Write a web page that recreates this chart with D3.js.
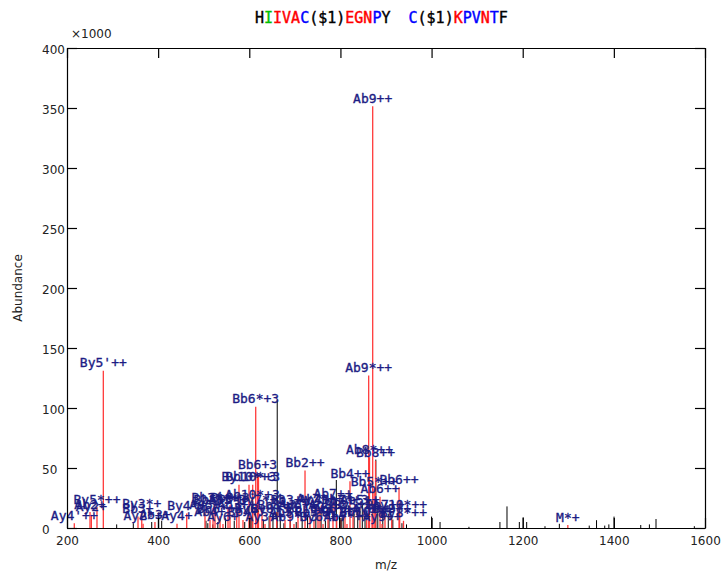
<!DOCTYPE html>
<html>
<head>
<meta charset="utf-8">
<script src="https://cdn.jsdelivr.net/npm/d3@7/dist/d3.min.js"></script>
<style>
body { margin: 0; background: #fff; }
svg text { font-family: "DejaVu Sans", sans-serif; }
.lbl { font-family: "DejaVu Sans Mono", monospace; font-size: 13px; fill: #1c1c84; stroke: #1c1c84; stroke-width: 0.35px; }
</style>
</head>
<body>
<script>
"use strict";

// tick values
var xTicks = [200, 400, 600, 800, 1000, 1200, 1400, 1600];
var yTicks = [0, 50, 100, 150, 200, 250, 300, 350, 400];

// title pieces: [text, colour]
var titleParts = [
    ["H", "#000"], ["I", "#00c000"], ["IVA", "#f00"], ["C", "#00f"], ["($1)", "#000"],
    ["EGN", "#f00"], ["P", "#00f"], ["Y", "#000"], ["  ", "#000"],
    ["C", "#00f"], ["($1)", "#000"], ["K", "#f00"], ["PV", "#00f"], ["N", "#f00"],
    ["T", "#00f"], ["F", "#000"]
];

// matched peaks: [m/z, abundance (x1000), label]
var matched = [
    [216, 4, "Ay4'++"], [250.5, 13.3, "Ab2+"], [253.5, 11, "Ay2+"], [265.8, 17.5, "By5*++"],
    [279.7, 131, "By5'++"], [355.8, 9.5, "Bb3+"], [364, 13.5, "By3*+"], [367, 3.5, "Ay2*+"],
    [393, 5, "Ab3+"], [441.4, 3.5, "Ay4+"], [462.7, 12, "By4*+"],
    [577.4, 36, ""], [599.4, 36, "By10*+3"], [607.5, 36, "Bb10*+3"], [607, 21, "Ab10*+3"],
    [614.1, 101, "Bb6*+3"], [618, 46, "Bb6+3"], [620.2, 44, ""],
    [722.3, 48, "Bb2++"], [783.7, 22, "Ab7++"], [821, 39, "Bb4++"],
    [862, 127, "Ab9*++"], [863.8, 59, "Ab8*++"], [870.8, 351.5, "Ab9++"],
    [874, 32.5, "Bb5*++"], [877, 56, "Bb8++"], [886.9, 26, "Ab6++"],
    [928.6, 34, "Bb6++"], [930, 13, "Ay10*++"], [938.4, 6, "By8*++"],
    [520.4, 16.7, "Bb5+3"], [553.3, 16.7, "Ab3*+"], [627.9, 16.7, "By7*+3"], [689.4, 16.7, "Bb3++"],
    [750.8, 16.7, "Ab4++"], [810, 16.7, "Bb7*+3"], [842.9, 16.7, "Ab5++"],
    [502.8, 13.3, "Ay5+"], [572.4, 13.3, "Ab3++"], [660.2, 13.3, "Bb8+3"], [706.9, 13.3, "Ay6++"],
    [772.7, 13.3, "Ab8+3"], [827.6, 13.3, "By5++"], [897.8, 13.3, "Bb7++"],
    [535.8, 10, "Bb6*++"], [601.6, 10, "By6+"], [645.5, 10, "By8+3"], [733.2, 10, "Bb10+3"],
    [791.8, 10, "Ab6*++"], [869.3, 10, "Ay8++"], [912.5, 10, "By9++"],
    [513.8, 6.7, "Ab4+"], [586.2, 6.7, "Bb4+"], [678.4, 6.7, "Ab5+"], [742, 6.7, "Bb5*+"],
    [801.3, 6.7, "By7++"], [857.7, 6.7, "Bb10*++"],
    [542.3, 3.3, "Ay6+"], [634.5, 3.3, "Ay3++"], [698.1, 3.3, "Ab9*+3"], [761.8, 3.3, "By6*++"],
    [814.4, 3.3, "Ab7*++"], [891.3, 3.3, "Ay9++"],
    [524.8, 19, "Bb3*++"], [557.7, 19, "Bb9+3"], [755.2, 18, "Ay7*++"],
    [1299, 2.5, "M*+"]
];

// unmatched peaks: [m/z, abundance (x1000)]
var unmatched = [
    [309, 3], [345.5, 4], [385.9, 5], [400.4, 12], [407.8, 6], [505, 6], [509, 4],
    [520, 3], [531, 5], [548, 8], [567, 6], [590, 5], [604, 9], [630.8, 7], [643.5, 10],
    [652, 12], [661.3, 107], [668, 9], [676, 4], [690, 6], [703, 5], [716, 8], [728, 11],
    [746, 7], [757.5, 13], [767, 6], [775, 18], [791, 40], [798, 10], [806, 8], [830, 12],
    [838, 15], [848, 20], [854, 9], [877.7, 57], [882, 18], [893, 10], [905, 12], [915, 7],
    [935, 4], [945, 3],
    [1000, 9.5], [1018.6, 5], [1082, 1], [1150, 5], [1165.5, 18], [1192.6, 5], [1201, 9],
    [1208.7, 5], [1248.9, 1.5], [1280.4, 3.5], [1346, 2], [1362, 6.5], [1380, 2], [1389, 3],
    [1400.4, 9.5], [1459, 2.5], [1478, 3], [1492.5, 7.5], [1576.6, 1.5]
];

var W = 723, H = 571,
    margin = {top: 48, right: 18, bottom: 43, left: 67},
    width = W - margin.left - margin.right,
    height = H - margin.top - margin.bottom;

var svg = d3.select("body").append("svg")
    .attr("width", W)
    .attr("height", H);

var x = d3.scaleLinear().domain([200, 1600]).range([0, width]);
var y = d3.scaleLinear().domain([0, 400]).range([height, 0]);

var g = svg.append("g")
    .attr("transform", "translate(" + margin.left + "," + margin.top + ")");

// unmatched peaks in black
g.append("g").selectAll("line")
    .data(unmatched)
    .enter().append("line")
    .attr("x1", function(d) { return x(d[0]); })
    .attr("x2", function(d) { return x(d[0]); })
    .attr("y1", height)
    .attr("y2", function(d) { return y(d[1]); })
    .style("stroke", "#000")
    .style("stroke-width", 1);

// matched peaks in red
g.append("g").selectAll("line")
    .data(matched)
    .enter().append("line")
    .attr("x1", function(d) { return x(d[0]); })
    .attr("x2", function(d) { return x(d[0]); })
    .attr("y1", height)
    .attr("y2", function(d) { return y(d[1]); })
    .style("stroke", "#ff3a3a")
    .style("stroke-width", 1.3);

// peak labels
g.append("g").selectAll("text")
    .data(matched.filter(function(d) { return d[2] !== ""; }))
    .enter().append("text")
    .attr("class", "lbl")
    .attr("x", function(d) { return x(d[0]); })
    .attr("y", function(d) { return y(d[1]) - 3.5; })
    .attr("text-anchor", "middle")
    .text(function(d) { return d[2]; });

// axes, ticks pointing inward on all four sides
var xAxis = d3.axisBottom(x).tickValues(xTicks).tickFormat(d3.format("d"))
    .tickSizeInner(-10).tickSizeOuter(0).tickPadding(8);
var yAxis = d3.axisLeft(y).tickValues(yTicks).tickSizeInner(-10).tickSizeOuter(0);

var xa = g.append("g")
    .attr("transform", "translate(0," + height + ")")
    .call(xAxis);
var ya = g.append("g").call(yAxis);
g.append("g")
    .call(d3.axisTop(x).tickValues(xTicks).tickSizeInner(-10).tickSizeOuter(0).tickFormat(""));
g.append("g")
    .attr("transform", "translate(" + width + ",0)")
    .call(d3.axisRight(y).tickValues(yTicks).tickSizeInner(-10).tickSizeOuter(0).tickFormat(""));

g.selectAll(".domain, .tick line").style("stroke", "#000").style("stroke-width", 1.2);
xa.selectAll("text").style("font-size", "12px").style("fill", "#222");
ya.selectAll("text")
    .attr("text-anchor", "start")
    .attr("x", -25)
    .attr("dy", "0.45em")
    .style("font-size", "12px")
    .style("fill", "#222");

// multiplier
svg.append("text")
    .attr("x", 71)
    .attr("y", 38)
    .style("font-size", "12px")
    .style("fill", "#222")
    .text("\u00d71000");

// axis titles
svg.append("text")
    .attr("transform", "translate(22," + (margin.top + height / 2) + ") rotate(-90)")
    .attr("text-anchor", "middle")
    .style("font-size", "12px")
    .style("fill", "#222")
    .text("Abundance");
svg.append("text")
    .attr("x", margin.left + width / 2)
    .attr("y", 569)
    .attr("text-anchor", "middle")
    .style("font-size", "12px")
    .style("fill", "#222")
    .text("m/z");

// coloured sequence title
var title = svg.append("text")
    .attr("x", 255)
    .attr("y", 23)
    .style("font-family", "'DejaVu Sans Mono', monospace")
    .style("font-size", "15px")
    .style("white-space", "pre");
title.selectAll("tspan")
    .data(titleParts)
    .enter().append("tspan")
    .style("fill", function(d) { return d[1]; })
    .style("stroke", function(d) { return d[1]; })
    .style("stroke-width", "0.4px")
    .text(function(d) { return d[0]; });
</script>
</body>
</html>
